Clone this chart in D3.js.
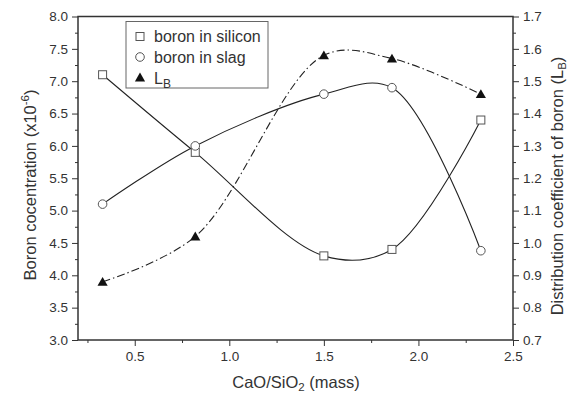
<!DOCTYPE html>
<html>
<head>
<meta charset="utf-8">
<script src="https://cdn.jsdelivr.net/npm/d3@7"></script>
<style>
  body { margin: 0; background: #fff; }
  svg { font-family: "Liberation Sans", Arial, sans-serif; }
</style>
</head>
<body>
<svg id="chart" width="570" height="395"></svg>
<script>
// values
const ratio = [0.33, 0.82, 1.50, 1.86, 2.33];
const boronSilicon = [7.1, 5.9, 4.3, 4.4, 6.4];
const boronSlag = [5.1, 6.0, 6.8, 6.9, 4.38];
const distCoef = [0.88, 1.02, 1.58, 1.57, 1.46];

const xTicks = [0.5, 1.0, 1.5, 2.0, 2.5];
const yLeftTicks = [3.0, 3.5, 4.0, 4.5, 5.0, 5.5, 6.0, 6.5, 7.0, 7.5, 8.0];
const yRightTicks = [0.7, 0.8, 0.9, 1.0, 1.1, 1.2, 1.3, 1.4, 1.5, 1.6, 1.7];

const svg = d3.select("#chart");
const m = { left: 78, right: 513, top: 16.5, bottom: 340 };
const ink = "#333";

const x = d3.scaleLinear().domain([0.2, 2.5]).range([m.left, m.right]);
const yL = d3.scaleLinear().domain([3, 8]).range([m.bottom, m.top]);
const yR = d3.scaleLinear().domain([0.7, 1.7]).range([m.bottom, m.top]);

// minor ticks first, then major ticks w/ labels
const minor = (axis, vals) => axis.tickValues(vals).tickSize(3).tickFormat("");
const axisStyle = function (g) {
    g.select(".domain").remove();
    g.selectAll("line").attr("stroke", ink).attr("stroke-width", 1);
    g.selectAll("text").attr("fill", ink).style("font-size", "13.5px");
};

svg.append("g").attr("transform", `translate(0,${m.bottom})`)
    .call(minor(d3.axisBottom(x), d3.range(0.25, 2.5, 0.5))).call(axisStyle);
svg.append("g").attr("transform", `translate(0,${m.bottom})`)
    .call(d3.axisBottom(x).tickValues(xTicks).tickSize(6).tickPadding(5).tickFormat(d3.format(".1f")))
    .call(axisStyle);

svg.append("g").attr("transform", `translate(${m.left},0)`)
    .call(minor(d3.axisLeft(yL), d3.range(3.25, 8, 0.5))).call(axisStyle);
svg.append("g").attr("transform", `translate(${m.left},0)`)
    .call(d3.axisLeft(yL).tickValues(yLeftTicks).tickSize(6).tickPadding(4).tickFormat(d3.format(".1f")))
    .call(axisStyle);

svg.append("g").attr("transform", `translate(${m.right},0)`)
    .call(minor(d3.axisRight(yR), d3.range(0.75, 1.7, 0.1))).call(axisStyle);
svg.append("g").attr("transform", `translate(${m.right},0)`)
    .call(d3.axisRight(yR).tickValues(yRightTicks).tickSize(6).tickPadding(4).tickFormat(d3.format(".1f")))
    .call(axisStyle);

// frame
svg.append("rect")
    .attr("x", m.left).attr("y", m.top)
    .attr("width", m.right - m.left).attr("height", m.bottom - m.top)
    .attr("fill", "none").attr("stroke", ink).attr("stroke-width", 1.5);

// curves (smoothed through the points)
const curve = d3.curveCatmullRom.alpha(0.5);
const lineL = d3.line().x((d, i) => x(ratio[i])).y(d => yL(d)).curve(curve);
const lineR = d3.line().x((d, i) => x(ratio[i])).y(d => yR(d)).curve(curve);

svg.append("path").attr("d", lineL(boronSilicon))
    .attr("fill", "none").attr("stroke", "#222").attr("stroke-width", 1.1);
svg.append("path").attr("d", lineL(boronSlag))
    .attr("fill", "none").attr("stroke", "#222").attr("stroke-width", 1.1);
svg.append("path").attr("d", lineR(distCoef))
    .attr("fill", "none").attr("stroke", "#222").attr("stroke-width", 1.1)
    .attr("stroke-dasharray", "8,3,1.5,3");

// markers
const sq = 8;
svg.selectAll(".sq").data(boronSilicon).join("rect")
    .attr("x", (d, i) => x(ratio[i]) - sq / 2).attr("y", d => yL(d) - sq / 2)
    .attr("width", sq).attr("height", sq)
    .attr("fill", "#fff").attr("stroke", "#555").attr("stroke-width", 1);

svg.selectAll(".ci").data(boronSlag).join("circle")
    .attr("cx", (d, i) => x(ratio[i])).attr("cy", d => yL(d)).attr("r", 4.3)
    .attr("fill", "#fff").attr("stroke", "#555").attr("stroke-width", 1);

const tri = d3.symbol().type(d3.symbolTriangle).size(45);
svg.selectAll(".tr").data(distCoef).join("path")
    .attr("transform", (d, i) => `translate(${x(ratio[i])},${yR(d) + 1})`)
    .attr("d", tri).attr("fill", "#111");

// legend
const lg = svg.append("g");
lg.append("rect").attr("x", 126).attr("y", 21.5).attr("width", 142).attr("height", 66.5)
    .attr("fill", "#fff").attr("stroke", "#666").attr("stroke-width", 1);
lg.append("rect").attr("x", 136).attr("y", 32.5).attr("width", 8).attr("height", 8)
    .attr("fill", "#fff").attr("stroke", "#555");
lg.append("circle").attr("cx", 140).attr("cy", 57).attr("r", 4.3)
    .attr("fill", "#fff").attr("stroke", "#555");
lg.append("path").attr("transform", "translate(140,78.5)").attr("d", tri).attr("fill", "#111");
const lgText = (y) => lg.append("text").attr("x", 154).attr("y", y)
    .attr("fill", ink).style("font-size", "16px");
lgText(42).text("boron in silicon");
lgText(63).text("boron in slag");
const lb = lgText(84);
lb.append("tspan").text("L");
lb.append("tspan").attr("dy", 4).style("font-size", "12px").text("B");

// axis titles
svg.append("text").attr("x", 296).attr("y", 388).attr("text-anchor", "middle")
    .attr("fill", ink).style("font-size", "16.5px")
    .call(t => {
        t.append("tspan").text("CaO/SiO");
        t.append("tspan").attr("dy", 3).style("font-size", "11.5px").text("2");
        t.append("tspan").attr("dy", -3).text(" (mass)");
    });

svg.append("text").attr("transform", "translate(36,185) rotate(-90)").attr("text-anchor", "middle")
    .attr("fill", ink).style("font-size", "16.5px")
    .call(t => {
        t.append("tspan").text("Boron cocentration (x10");
        t.append("tspan").attr("dy", -7).style("font-size", "11.5px").text("-6");
        t.append("tspan").attr("dy", 7).text(")");
    });

svg.append("text").attr("transform", "translate(563,186) rotate(-90)").attr("text-anchor", "middle")
    .attr("fill", ink).style("font-size", "16.5px")
    .call(t => {
        t.append("tspan").text("Distribution coefficient of boron (L");
        t.append("tspan").attr("dy", 3).style("font-size", "11.5px").text("B");
        t.append("tspan").attr("dy", -3).text(")");
    });
</script>
</body>
</html>
